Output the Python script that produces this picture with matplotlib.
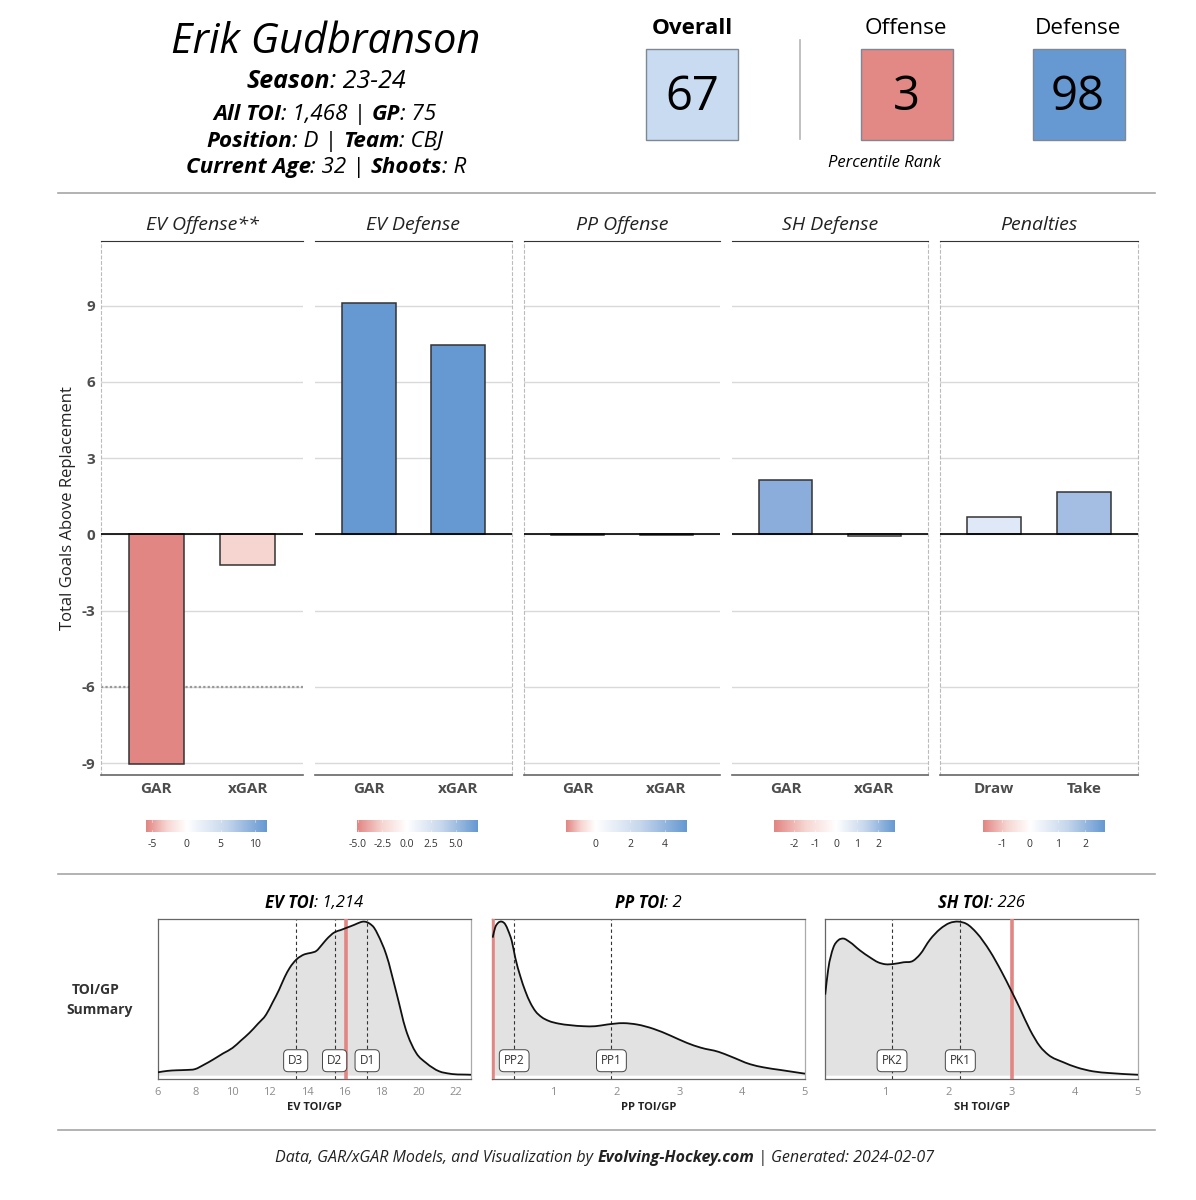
import numpy as np
import matplotlib
matplotlib.use('Agg')
import matplotlib.pyplot as plt
from matplotlib.colors import LinearSegmentedColormap, TwoSlopeNorm
from matplotlib.patches import PathPatch, Rectangle
from matplotlib.path import Path

plt.rcParams['font.family'] = ['Open Sans', 'DejaVu Sans']
plt.rcParams['axes.unicode_minus'] = False

W, H = 1196, 1200
RED = '#E28683'
BLUE = '#6699D2'

# bar panels
panel_titles = ['EV Offense**', 'EV Defense', 'PP Offense', 'SH Defense', 'Penalties']
panel_cats = [['GAR', 'xGAR'], ['GAR', 'xGAR'], ['GAR', 'xGAR'], ['GAR', 'xGAR'], ['Draw', 'Take']]
panel_vals = [[-9.05, -1.2], [9.12, 7.47], [-0.02, -0.01], [2.15, -0.07], [0.7, 1.68]]
panel_cols = [[RED, '#F6D5D1'], [BLUE, BLUE], ['#FDF8F8', '#FDFDFE'], ['#8AADDB', '#F4F6FB'], ['#DFE8F6', '#A3BDE3']]
y_ticks = [-9, -6, -3, 0, 3, 6, 9]

# colour legends
cbar_limits = [(-5.95, 11.8), (-5.1, 7.3), (-1.7, 5.3), (-2.95, 2.8), (-1.68, 2.67)]
cbar_ticks = [[-5, 0, 5, 10], [-5.0, -2.5, 0.0, 2.5, 5.0], [0, 2, 4], [-2, -1, 0, 1, 2], [-1, 0, 1, 2]]
cbar_labels = [['-5', '0', '5', '10'], ['-5.0', '-2.5', '0.0', '2.5', '5.0'], ['0', '2', '4'],
               ['-2', '-1', '0', '1', '2'], ['-1', '0', '1', '2']]

# TOI densities
ev_x = [6, 6.5, 7, 7.5, 8, 8.45, 8.95, 9.5, 10, 10.45, 10.9, 11.35, 11.8, 12.15, 12.5, 12.8, 13.07, 13.42, 13.87,
        14.2, 14.5, 14.8, 15.03, 15.48, 15.8, 16.1, 16.55, 16.8, 17.0, 17.2, 17.36, 17.6, 17.8, 18.25, 18.8, 19.3,
        19.86, 20.4, 21.1, 21.65, 22.8]
ev_y = [.022, .031, .035, .037, .043, .07, .104, .145, .18, .228, .277, .335, .396, .475, .558, .64, .70, .753, .788,
        .797, .81, .85, .883, .931, .945, .959, .98, .993, 1, .997, .987, .96, .916, .786, .537, .30,
        .147, .082, .028, .013, .006]
pp_x = [.03, .07, .12, .175, .23, .28, .335, .39, .47, .55, .63, .71, .81, .92, 1.08, 1.26, 1.48, 1.66, 1.85, 2.11,
        2.33, 2.59, 2.86, 3.12, 3.34, 3.63, 3.81, 4.13, 4.34, 4.61, 5.0]
pp_y = [.896, .961, .993, 1, .983, .939, .874, .766, .646, .549, .473, .419, .380, .356, .338, .328, .321, .321, .332,
        .341, .332, .304, .260, .213, .182, .154, .126, .074, .054, .037, .013]
sh_x = [.053, .10, .18, .26, .34, .44, .60, .76, .89, 1.01, 1.13, 1.29, 1.44, 1.55, 1.71, 1.87, 2.02, 2.16, 2.29,
        2.45, 2.66, 2.84, 3.0, 3.13, 3.29, 3.45, 3.58, 3.82, 4.03, 4.29, 4.55, 5.0]
sh_y = [.526, .688, .829, .879, .890, .868, .814, .768, .736, .723, .725, .736, .745, .786, .883, .952, .991, 1, .985,
        .926, .807, .677, .548, .439, .299, .190, .136, .087, .054, .028, .017, .006]

toi_curves = [(ev_x, ev_y), (pp_x, pp_y), (sh_x, sh_y)]
toi_xlim = [(6, 22.8), (0.02, 5.0), (0.05, 5.0)]
toi_ticks = [[6, 8, 10, 12, 14, 16, 18, 20, 22], [1, 2, 3, 4, 5], [1, 2, 3, 4, 5]]
toi_player = [16.09, 0.03, 3.0]
toi_marks = [[('D3', 13.39), ('D2', 15.48), ('D1', 17.23)], [('PP2', 0.373), ('PP1', 1.92)], [('PK2', 1.11), ('PK1', 2.19)]]
toi_titles = [('EV TOI', ': 1,214'), ('PP TOI', ': 2'), ('SH TOI', ': 226')]
toi_xlabels = ['EV TOI/GP', 'PP TOI/GP', 'SH TOI/GP']

cmap = LinearSegmentedColormap.from_list('rwb', [RED, '#F6D5D1', '#FFFFFF', '#C6D6EC', BLUE])

fig = plt.figure(figsize=(W / 100, H / 100), dpi=100)
bg = fig.add_axes([0, 0, 1, 1])
bg.set_xlim(0, W)
bg.set_ylim(H, 0)
bg.axis('off')


def ax_px(left, top, right, bottom):
    return fig.add_axes([left / W, 1 - bottom / H, (right - left) / W, (bottom - top) / H])


def run_width(txt, **kw):
    r = fig.canvas.get_renderer()
    a = bg.text(0, 0, 'x' + txt + 'x', **kw)
    b = bg.text(0, 0, 'xx', **kw)
    w = a.get_window_extent(r).width - b.get_window_extent(r).width
    a.remove()
    b.remove()
    return w


def mixed(xc, y, parts, size, color='black'):
    # parts is a list of (text, bold) runs, all italic, centred together on xc
    widths = [run_width(t, fontsize=size, style='italic', weight='bold' if b else 'normal') for t, b in parts]
    x = xc - sum(widths) / 2
    for (t, b), w in zip(parts, widths):
        bg.text(x, y, t, fontsize=size, style='italic', weight='bold' if b else 'normal', color=color,
                ha='left', va='center_baseline')
        x += w


def smooth_verts(xs, ys):
    # hermite segments through the read points, so the curve has no corners
    xs = np.array(xs, dtype=float)
    ys = np.array(ys, dtype=float)
    m = np.gradient(ys, xs)
    verts = [(xs[0], ys[0])]
    for k in range(len(xs) - 1):
        h = xs[k + 1] - xs[k]
        verts.append((xs[k] + h / 3, ys[k] + m[k] * h / 3))
        verts.append((xs[k + 1] - h / 3, ys[k + 1] - m[k + 1] * h / 3))
        verts.append((xs[k + 1], ys[k + 1]))
    return verts


# header
bg.text(326, 42, 'Erik Gudbranson', fontsize=30, style='italic', ha='center', va='center')
mixed(326, 79, [('Season', True), (': 23-24', False)], 18)
mixed(325, 112, [('All TOI', True), (': 1,468 | ', False), ('GP', True), (': 75', False)], 16.1)
mixed(325, 139, [('Position', True), (': D | ', False), ('Team', True), (': CBJ', False)], 16.1)
mixed(326, 165, [('Current Age', True), (': 32 | ', False), ('Shoots', True), (': R', False)], 16.1)

boxes = [('Overall', 67, '#C8DBF0', 646, 692, 'bold'), ('Offense', 3, '#E28885', 861, 906, 'normal'),
         ('Defense', 98, BLUE, 1033, 1078, 'normal')]
for name, val, col, x0, xc, wt in boxes:
    bg.add_patch(Rectangle((x0, 49), 92, 91, fc=col, ec='#7E8794', lw=1))
    bg.text(xc, 28, name, fontsize=16.2, weight=wt, ha='center', va='center')
    bg.text(xc, 97, str(val), fontsize=34, ha='center', va='center')
bg.text(884, 163, 'Percentile Rank', fontsize=12, style='italic', ha='center', va='center')
bg.plot([800, 800], [40, 139], color='#B5B5B5', lw=1.2)

for yy in [193, 874, 1130]:
    bg.plot([58, 1155], [yy, yy], color='#A6A6A6', lw=1.2)

# bar panels
panel_px = [(101, 303), (315, 512), (524, 720), (732, 928), (940, 1138)]
cbar_px = [146, 357, 566, 774, 983]
left_dash = [True, False, True, False, True]
right_dash = [False, True, False, True, True]

for i, (l, r) in enumerate(panel_px):
    ax = ax_px(l, 241, r, 775)
    ax.set_xlim(0.4, 2.6)
    ax.set_ylim(-9.47, 11.55)
    ax.set_axisbelow(True)
    ax.yaxis.grid(True, color='#D9D9D9', lw=1)
    ax.bar([1, 2], panel_vals[i], width=0.6, color=panel_cols[i], edgecolor='#333333', lw=1.1, zorder=3)
    ax.axhline(0, color='black', lw=1.2, zorder=4)
    if i == 0:
        ax.axhline(-6, color='#999999', lw=1.6, ls=(0, (1, 1)), zorder=2)
    ax.set_xticks([1, 2], panel_cats[i])
    ax.set_yticks(y_ticks)
    ax.tick_params(axis='x', length=0, labelsize=11, labelcolor='#4D4D4D', pad=5)
    ax.tick_params(axis='y', length=0, labelsize=11, labelcolor='#4D4D4D', pad=4)
    for lab in ax.get_xticklabels() + ax.get_yticklabels():
        lab.set_fontweight('bold')
    if i > 0:
        ax.tick_params(axis='y', labelleft=False)
    ax.spines['top'].set_color('#333333')
    ax.spines['bottom'].set_color('#666666')
    ax.spines['bottom'].set_linewidth(1.2)
    for side, on in [('left', left_dash[i]), ('right', right_dash[i])]:
        ax.spines[side].set_visible(on)
        ax.spines[side].set_color('#BBBBBB')
        ax.spines[side].set_linestyle((0, (2.5, 2.5)))
    bg.text((l + r) / 2, 225, panel_titles[i], fontsize=14, style='italic', color='#222222', ha='center', va='center')

    # legend bar
    x0 = cbar_px[i]
    vmin, vmax = cbar_limits[i]
    cax = ax_px(x0, 820, x0 + 121, 832)
    grad = np.linspace(vmin, vmax, 256).reshape(1, -1)
    cax.imshow(grad, cmap=cmap, norm=TwoSlopeNorm(0, vmin, vmax), aspect='auto', extent=(vmin, vmax, 0, 1))
    cax.set_yticks([])
    cax.set_xticks(cbar_ticks[i], cbar_labels[i])
    cax.tick_params(axis='x', length=0, labelsize=7.5, labelcolor='#333333', pad=5)
    for t in cbar_ticks[i]:
        cax.plot([t, t], [0, 0.2], color='white', lw=0.5, alpha=0.6)
        cax.plot([t, t], [0.8, 1], color='white', lw=0.5, alpha=0.6)
    cax.set_xlim(vmin, vmax)
    cax.set_ylim(0, 1)
    for s in cax.spines.values():
        s.set_visible(False)

bg.text(68, 508, 'Total Goals Above Replacement', fontsize=12, color='#222222', rotation=90, ha='center', va='center')

# TOI panels
toi_px = [(158, 471), (492, 805), (825, 1138)]
for i, (l, r) in enumerate(toi_px):
    ax = ax_px(l, 919, r, 1079)
    xs, ys = toi_curves[i]
    verts = smooth_verts(xs, ys)
    codes = [Path.MOVETO] + [Path.CURVE4] * (len(verts) - 1)
    fill_path = Path([(xs[0], 0)] + verts + [(xs[-1], 0), (xs[0], 0)],
                     [Path.MOVETO, Path.LINETO] + [Path.CURVE4] * (len(verts) - 1) + [Path.LINETO, Path.CLOSEPOLY])
    ax.add_patch(PathPatch(fill_path, fc='#E2E2E2', ec='none', zorder=1))
    for name, pos in toi_marks[i]:
        ax.axvline(pos, color='#333333', lw=0.8, ls=(0, (3, 2.5)), zorder=2)
    ax.axvline(toi_player[i], color=RED, lw=2.6, zorder=3)
    ax.add_patch(PathPatch(Path(verts, codes), fc='none', ec='#111111', lw=1.3, zorder=4))
    for name, pos in toi_marks[i]:
        ax.text(pos, 0.097, name, fontsize=8.5, color='#333333', ha='center', va='center', zorder=5,
                bbox=dict(boxstyle='round,pad=0.38', fc='white', ec='#444444', lw=0.7))
    ax.set_xlim(*toi_xlim[i])
    ax.set_ylim(-0.0216, 1.017)
    ax.set_yticks([])
    ax.set_xticks(toi_ticks[i])
    ax.tick_params(axis='x', length=0, labelsize=8, labelcolor='#8C8C8C', pad=6)
    ax.set_xlabel(toi_xlabels[i], fontsize=8, fontweight='bold', color='#222222', labelpad=3)
    for s in ax.spines.values():
        s.set_color('#666666')
        s.set_linewidth(0.9)
    ax.spines['right'].set_color('#AAAAAA')
    mixed((l + r) / 2, 901, [(toi_titles[i][0], True), (toi_titles[i][1], False)], 12)

bg.text(96, 990, 'TOI/GP', fontsize=10, weight='bold', color='#333333', ha='center', va='center')
bg.text(100, 1010, 'Summary', fontsize=10, weight='bold', color='#333333', ha='center', va='center')

# footer
mixed(605, 1156, [('Data, GAR/xGAR Models, and Visualization by ', False), ('Evolving-Hockey.com', True),
                  (' | Generated: 2024-02-07', False)], 11.5, color='#222222')

fig.savefig('out.png', dpi=100)
